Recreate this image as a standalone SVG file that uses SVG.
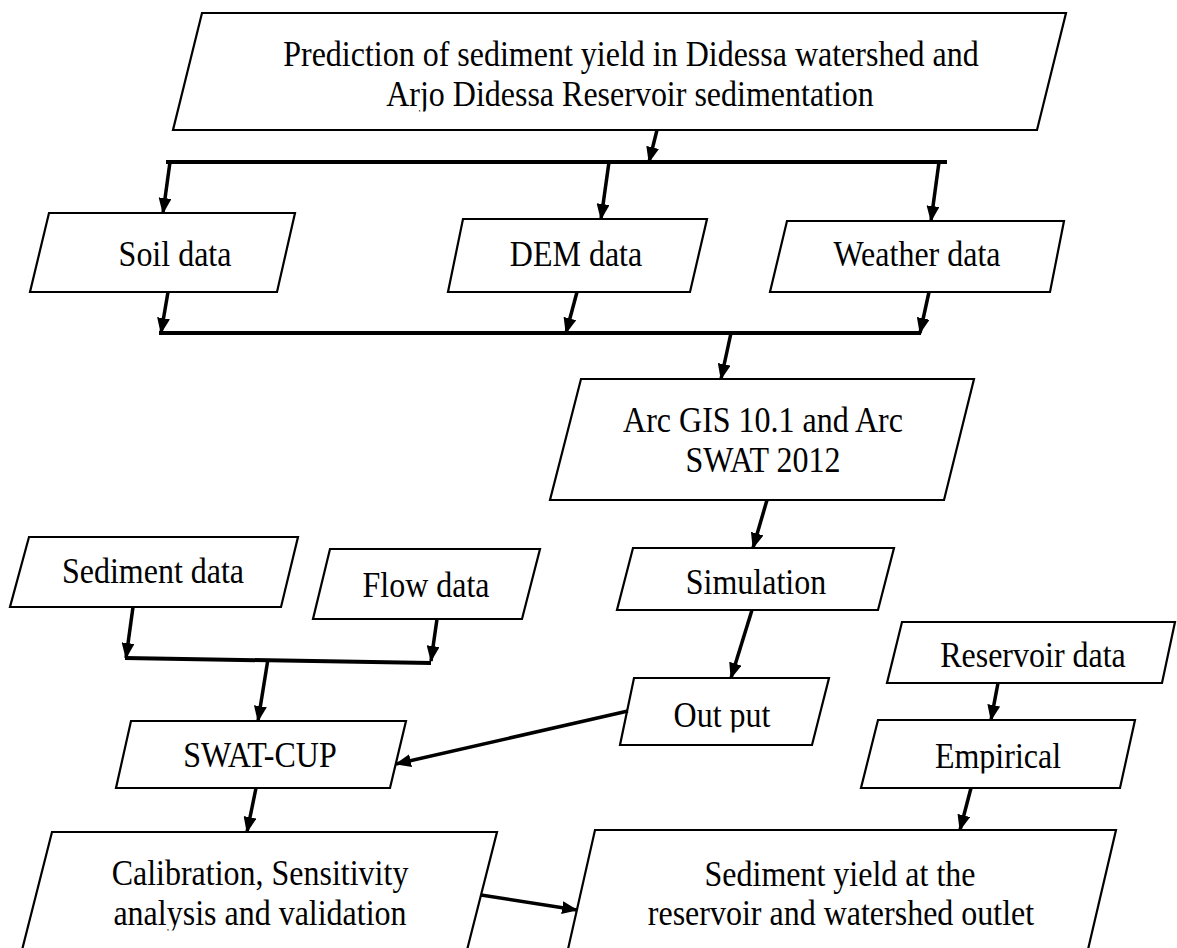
<svg xmlns="http://www.w3.org/2000/svg" width="1177" height="948" viewBox="0 0 1177 948">
<style>
.box{fill:#fff;stroke:#000;stroke-width:2.2;stroke-linejoin:miter}
.t{font-family:"Liberation Serif","Times New Roman",serif;font-size:32px;fill:#000;text-anchor:middle}
.ca{stroke:#000;stroke-width:3.5;fill:none;marker-end:url(#ah)}
.bar{stroke:#000;stroke-width:4;fill:none}
</style>
<defs>
<marker id="ah" markerUnits="userSpaceOnUse" markerWidth="16" markerHeight="13" refX="15" refY="6.5" orient="auto">
<path d="M0,0 L16,6.5 L0,13 z" fill="#000"/>
</marker>
<clipPath id="clb"><rect x="-600" y="-60" width="1200" height="65"/></clipPath>
</defs>

<g id="n-top">
<polygon class="box" points="202,13 1066,13 1037,130 173,130"/>
<g transform="translate(631,66) scale(1,1.1)"><text class="t" x="0" y="0">Prediction of sediment yield in Didessa watershed and</text></g>
<g transform="translate(630,106) scale(1,1.1)"><text class="t" x="0" y="0" clip-path="url(#clb)">Arjo Didessa Reservoir sedimentation</text></g>
</g>
<g id="n-soil">
<polygon class="box" points="49,213 295,213 277,292 30,292"/>
<g transform="translate(175,266) scale(1,1.1)"><text class="t" x="0" y="0">Soil data</text></g>
</g>
<g id="n-dem">
<polygon class="box" points="463,219 707,219 690,292 448,292"/>
<g transform="translate(576,266) scale(1,1.1)"><text class="t" x="0" y="0">DEM data</text></g>
</g>
<g id="n-weather">
<polygon class="box" points="787,221 1064,221 1050,292 770,292"/>
<g transform="translate(917,266) scale(1,1.1)"><text class="t" x="0" y="0">Weather data</text></g>
</g>
<g id="n-arc">
<polygon class="box" points="581,379 974,379 944,500 550,500"/>
<g transform="translate(763,432) scale(1,1.1)"><text class="t" x="0" y="0">Arc GIS 10.1 and Arc</text></g>
<g transform="translate(763,472) scale(1,1.1)"><text class="t" x="0" y="0">SWAT 2012</text></g>
</g>
<g id="n-sim">
<polygon class="box" points="633,548 894,548 878,610 617,610"/>
<g transform="translate(756,594) scale(1,1.1)"><text class="t" x="0" y="0">Simulation</text></g>
</g>
<g id="n-sed">
<polygon class="box" points="29,537 298,537 281,607 10,607"/>
<g transform="translate(153,583) scale(1,1.1)"><text class="t" x="0" y="0">Sediment data</text></g>
</g>
<g id="n-flow">
<polygon class="box" points="330,549 540,549 522,619 313,619"/>
<g transform="translate(426,597) scale(1,1.1)"><text class="t" x="0" y="0">Flow data</text></g>
</g>
<g id="n-res">
<polygon class="box" points="902,622 1175,622 1162,683 887,683"/>
<g transform="translate(1033,667) scale(1,1.1)"><text class="t" x="0" y="0">Reservoir data</text></g>
</g>
<g id="n-out">
<polygon class="box" points="634,678 829,678 812,745 620,745"/>
<g transform="translate(722,727) scale(1,1.1)"><text class="t" x="0" y="0" clip-path="url(#clb)">Out put</text></g>
</g>
<g id="n-emp">
<polygon class="box" points="878,720 1135,720 1120,788 861,788"/>
<g transform="translate(998,768) scale(1,1.1)"><text class="t" x="0" y="0" clip-path="url(#clb)">Empirical</text></g>
</g>
<g id="n-cup">
<polygon class="box" points="131,721 406,721 390,788 116,788"/>
<g transform="translate(260,767) scale(1,1.1)"><text class="t" x="0" y="0">SWAT-CUP</text></g>
</g>
<g id="n-cal">
<polygon class="box" points="52,832 497,832 465,958 20,958"/>
<g transform="translate(260,885) scale(1,1.1)"><text class="t" x="0" y="0">Calibration, Sensitivity</text></g>
<g transform="translate(260,925) scale(1,1.1)"><text class="t" x="0" y="0" clip-path="url(#clb)">analysis and validation</text></g>
</g>
<g id="n-yield">
<polygon class="box" points="595,830 1116,830 1086,958 566,958"/>
<g transform="translate(840,886) scale(1,1.1)"><text class="t" x="0" y="0">Sediment yield at the</text></g>
<g transform="translate(841,925) scale(1,1.1)"><text class="t" x="0" y="0">reservoir and watershed outlet</text></g>
</g>

<g id="connectors">
<line class="ca" x1="657" y1="130" x2="649" y2="162"/>
<line class="bar" x1="166" y1="162" x2="947" y2="162"/>
<line class="ca" x1="170" y1="162" x2="163" y2="213"/>
<line class="ca" x1="609" y1="162" x2="601" y2="219"/>
<line class="ca" x1="939" y1="162" x2="931" y2="221"/>
<line class="ca" x1="168" y1="292" x2="161" y2="333"/>
<line class="ca" x1="577" y1="292" x2="566" y2="333"/>
<line class="ca" x1="929" y1="292" x2="920" y2="333"/>
<line class="bar" x1="159" y1="333" x2="921" y2="333"/>
<line class="ca" x1="731" y1="333" x2="721" y2="379"/>
<line class="ca" x1="767" y1="500" x2="753" y2="548"/>
<line class="ca" x1="752" y1="610" x2="731" y2="678"/>
<line class="ca" x1="133" y1="607" x2="126" y2="658"/>
<line class="ca" x1="437" y1="619" x2="431" y2="661"/>
<line class="bar" x1="125" y1="658" x2="431" y2="663"/>
<line class="ca" x1="268" y1="659" x2="258" y2="721"/>
<line class="ca" x1="628" y1="711" x2="396" y2="764"/>
<line class="ca" x1="256" y1="788" x2="247" y2="832"/>
<line class="ca" x1="998" y1="683" x2="991" y2="720"/>
<line class="ca" x1="971" y1="788" x2="960" y2="830"/>
<line class="ca" x1="481" y1="895" x2="577" y2="910"/>
</g>
</svg>
